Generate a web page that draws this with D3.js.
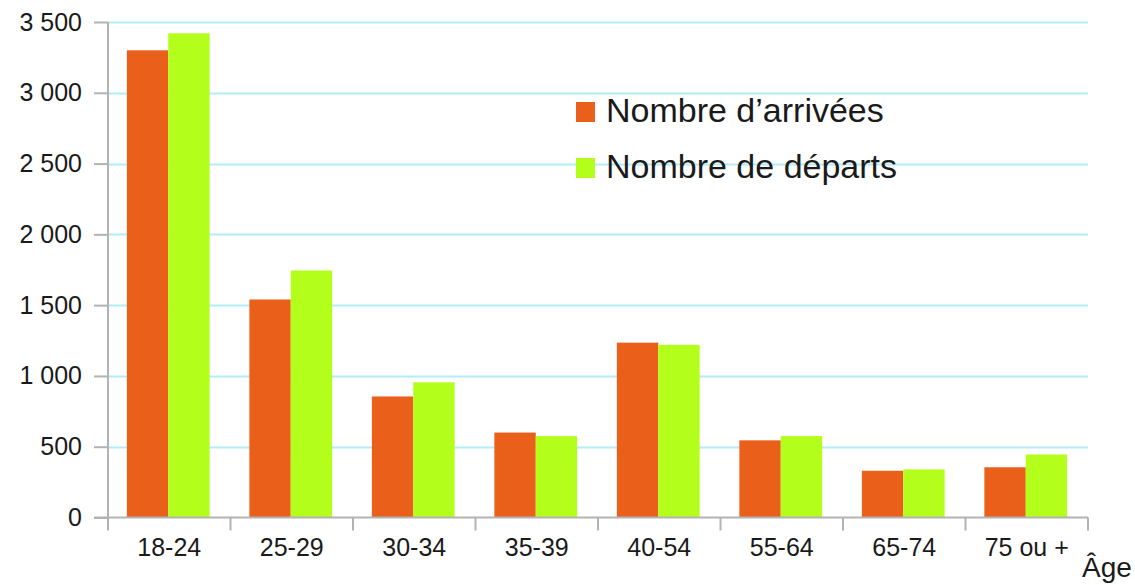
<!DOCTYPE html>
<html>
<head>
<meta charset="utf-8">
<script src="https://cdn.jsdelivr.net/npm/d3@7"></script>
<style>
  body { margin: 0; background: #fff; }
  text { font-family: "Liberation Sans", Arial, sans-serif; fill: #1a1a1a; }
</style>
</head>
<body>
<script>
var ages = ["18-24", "25-29", "30-34", "35-39", "40-54", "55-64", "65-74", "75 ou +"];
var seriesNames = ["Nombre d\u2019arrivées", "Nombre de départs"];
var arrivees = [3300, 1540, 855, 600, 1235, 545, 330, 355];
var departs = [3420, 1745, 955, 575, 1220, 575, 340, 445];
var yTicks = [0, 500, 1000, 1500, 2000, 2500, 3000, 3500];
var colors = ["#ea5f1a", "#b4fe1b"];

var width = 1135, height = 585,
    margin = {top: 22, right: 47, bottom: 68, left: 108};

var svg = d3.select("body").append("svg")
    .attr("width", width)
    .attr("height", height);

var x0 = d3.scaleBand().domain(ages)
    .range([margin.left, width - margin.right])
    .padding(0);

var x1 = d3.scaleBand().domain([0, 1])
    .range([0, x0.bandwidth()])
    .paddingInner(0)
    .paddingOuter(0.48);

var y = d3.scaleLinear().domain([0, 3500])
    .range([height - margin.bottom + 0.5, margin.top]);

var fmt = d3.formatLocale({decimal: ",", thousands: " ", grouping: [3], currency: ["", " €"]}).format(",d");

// grid
svg.append("g").selectAll("line")
    .data(yTicks.filter((d) => d > 0))
  .enter().append("line")
    .attr("x1", margin.left)
    .attr("x2", width - margin.right)
    .attr("y1", (d) => Math.round(y(d)) + 0.5)
    .attr("y2", (d) => Math.round(y(d)) + 0.5)
    .attr("stroke", "#b2ecf7")
    .attr("stroke-width", 2);

// bars
var groups = svg.append("g").selectAll("g")
    .data(ages.map((a, i) => [arrivees[i], departs[i]]))
  .enter().append("g")
    .attr("transform", (d, i) => "translate(" + (x0(ages[i]) - 1) + ",0)");

groups.selectAll("rect")
    .data((d) => d)
  .enter().append("rect")
    .attr("x", (d, j) => x1(j))
    .attr("width", x1.bandwidth())
    .attr("y", (d) => y(d))
    .attr("height", (d) => y(0) - y(d))
    .attr("fill", (d, j) => colors[j]);

// y axis
var yAxis = svg.append("g")
    .attr("transform", "translate(" + margin.left + ",0)")
    .call(d3.axisLeft(y).tickValues(yTicks).tickSize(14).tickPadding(12).tickFormat(fmt));

// x axis
var xAxis = svg.append("g")
    .attr("transform", "translate(0," + y(0) + ")")
    .call(d3.axisBottom(x0).tickSize(0).tickPadding(21));

xAxis.selectAll(".tick").append("line")
    .attr("x1", -x0.bandwidth() / 2).attr("x2", -x0.bandwidth() / 2)
    .attr("y1", 0).attr("y2", 13);
xAxis.append("line")
    .attr("class", "endtick")
    .attr("x1", width - margin.right).attr("x2", width - margin.right)
    .attr("y1", 0).attr("y2", 13);

svg.selectAll(".domain").attr("stroke", "#b3b3b3").attr("stroke-width", 2);
svg.selectAll(".tick line, .endtick").attr("stroke", "#b3b3b3").attr("stroke-width", 2);
svg.selectAll(".tick text").style("font-size", "25px").attr("fill", "#1a1a1a");
yAxis.select(".domain").attr("d", "M0," + y(3500) + "V" + y(0));
xAxis.select(".domain").attr("d", "M" + (margin.left - 14) + ",0H" + (width - margin.right));

// axis title
svg.append("text")
    .attr("x", 1082)
    .attr("y", 577)
    .style("font-size", "28px")
    .text("Âge");

// legend
var legend = svg.append("g").selectAll("g")
    .data(seriesNames)
  .enter().append("g")
    .attr("transform", (d, i) => "translate(576," + (102 + i * 56) + ")");

legend.append("rect")
    .attr("width", 19)
    .attr("height", 20)
    .attr("fill", (d, i) => colors[i]);

legend.append("text")
    .attr("x", 30)
    .attr("y", 20)
    .style("font-size", "34px")
    .text((d) => d);
</script>
</body>
</html>
